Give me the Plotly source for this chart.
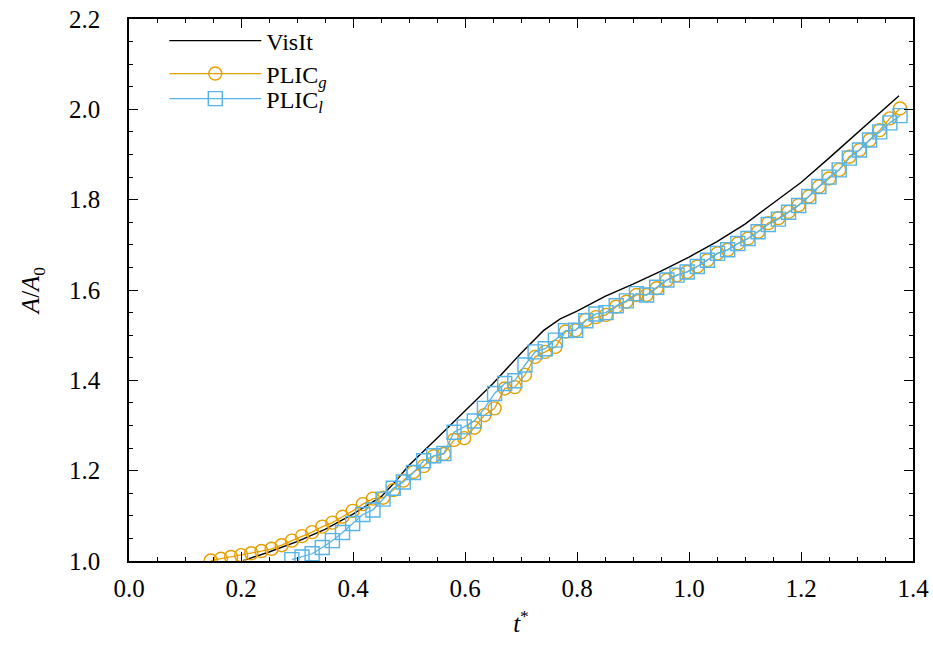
import plotly.graph_objects as go

# ---------------- data ----------------
t_plic = [0.1460, 0.1641, 0.1822, 0.2003, 0.2184, 0.2365, 0.2546, 0.2727, 0.2908, 0.3089,
          0.3270, 0.3451, 0.3632, 0.3813, 0.3994, 0.4175, 0.4356, 0.4537, 0.4718, 0.4899,
          0.5080, 0.5261, 0.5442, 0.5623, 0.5804, 0.5985, 0.6166, 0.6347, 0.6528, 0.6709,
          0.6890, 0.7071, 0.7252, 0.7433, 0.7614, 0.7795, 0.7976, 0.8157, 0.8338, 0.8519,
          0.8700, 0.8881, 0.9062, 0.9243, 0.9424, 0.9605, 0.9786, 0.9967, 1.0148, 1.0329,
          1.0510, 1.0691, 1.0872, 1.1053, 1.1234, 1.1415, 1.1596, 1.1777, 1.1958, 1.2139,
          1.2320, 1.2501, 1.2682, 1.2863, 1.3044, 1.3225, 1.3406, 1.3587, 1.3768]

plic_g = [1.001, 1.005, 1.009, 1.013, 1.017, 1.022, 1.027, 1.035, 1.045, 1.055,
          1.064, 1.076, 1.085, 1.098, 1.111, 1.126, 1.138, 1.140, 1.157, 1.178,
          1.197, 1.210, 1.232, 1.237, 1.268, 1.272, 1.295, 1.323, 1.338, 1.382,
          1.385, 1.412, 1.452, 1.463, 1.474, 1.508, 1.511, 1.534, 1.540, 1.545,
          1.563, 1.574, 1.589, 1.589, 1.604, 1.622, 1.633, 1.640, 1.652, 1.666,
          1.681, 1.689, 1.703, 1.714, 1.729, 1.748, 1.759, 1.773, 1.788, 1.807,
          1.829, 1.847, 1.866, 1.895, 1.910, 1.932, 1.954, 1.980, 2.002]

t_plic_l = t_plic[8:]
plic_l = [1.003, 1.009, 1.016, 1.030, 1.045, 1.063, 1.083, 1.103, 1.113, 1.137,
          1.161, 1.175, 1.196, 1.222, 1.233, 1.238, 1.285, 1.297, 1.310, 1.338,
          1.371, 1.393, 1.399, 1.434, 1.463, 1.470, 1.489, 1.510, 1.511, 1.532,
          1.547, 1.550, 1.565, 1.576, 1.592, 1.589, 1.606, 1.622, 1.633, 1.640,
          1.652, 1.666, 1.681, 1.689, 1.703, 1.714, 1.729, 1.745, 1.757, 1.772,
          1.787, 1.807, 1.829, 1.850, 1.866, 1.892, 1.910, 1.932, 1.950, 1.970,
          1.986]

t_visit = [0.204, 0.25, 0.30, 0.35, 0.40, 0.45, 0.475, 0.50, 0.55, 0.60, 0.65, 0.70,
           0.74, 0.77, 0.80, 0.85, 0.90, 0.95, 1.00, 1.05, 1.10, 1.15, 1.20, 1.25,
           1.30, 1.35, 1.375]
visit = [1.001, 1.020, 1.043, 1.070, 1.104, 1.142, 1.175, 1.212, 1.272, 1.332, 1.393, 1.460,
         1.510, 1.536, 1.553, 1.586, 1.613, 1.642, 1.673, 1.707, 1.746, 1.792, 1.838, 1.892,
         1.948, 2.003, 2.030]

x_ticks = [0.0, 0.2, 0.4, 0.6, 0.8, 1.0, 1.2, 1.4]
y_ticks = [1.0, 1.2, 1.4, 1.6, 1.8, 2.0, 2.2]

# ---------------- styling ----------------
FONT = "Liberation Serif"
ORANGE = "#E69F00"
BLUE = "#56B4E9"

fig = go.Figure()
fig.add_trace(go.Scatter(x=t_visit, y=visit, mode="lines", name="VisIt", legend="legend",
                         line=dict(color="black", width=1.4)))
fig.add_trace(go.Scatter(x=t_plic, y=plic_g, mode="lines+markers", name="PLIC<sub><i>g</i></sub>",
                         legend="legend2",
                         line=dict(color=ORANGE, width=1.3),
                         marker=dict(symbol="circle-open", size=13, color=ORANGE,
                                     line=dict(width=1.4, color=ORANGE))))
fig.add_trace(go.Scatter(x=t_plic_l, y=plic_l, mode="lines+markers", name="PLIC<sub><i>l</i></sub>",
                         legend="legend3",
                         line=dict(color=BLUE, width=1.3),
                         marker=dict(symbol="square-open", size=14, color=BLUE,
                                     line=dict(width=1.4, color=BLUE))))

axis_common = dict(
    showline=True, linecolor="black", linewidth=1.5, mirror="ticks",
    ticks="inside", ticklen=9, tickwidth=1.3, tickcolor="black",
    showgrid=False, zeroline=False, tickformat=".1f", automargin=False,
    tickfont=dict(family=FONT, size=25, color="black"),
)

legend_common = dict(x=0.045, xanchor="left", yanchor="middle",
                     bgcolor="rgba(0,0,0,0)", itemwidth=92,
                     font=dict(family=FONT, size=24, color="black"))

fig.update_layout(
    width=933, height=647,
    margin=dict(l=129, r=20, t=19, b=86),
    paper_bgcolor="white", plot_bgcolor="white",
    font=dict(family=FONT, size=24, color="black"),
    showlegend=True,
    legend=dict(y=0.9594, **legend_common),
    legend2=dict(y=0.8986, **legend_common),
    legend3=dict(y=0.8524, **legend_common),
    xaxis=dict(range=[0, 1.4], tickvals=x_ticks, ticklabelstandoff=4,
               minor=dict(dtick=0.05, ticks="inside", ticklen=4.5, tickwidth=1.1, tickcolor="black", showgrid=False),
               title=dict(text="<i>t</i><sup>*</sup>", font=dict(family=FONT, size=25), standoff=14),
               **axis_common),
    yaxis=dict(range=[1.0, 2.2], tickvals=y_ticks, ticklabelstandoff=22,
               minor=dict(dtick=0.05, ticks="inside", ticklen=4.5, tickwidth=1.1, tickcolor="black", showgrid=False),
               title=dict(text="<i>A</i>/<i>A</i><sub>0</sub>", font=dict(family=FONT, size=25), standoff=22),
               **axis_common),
)

fig.write_html("out.html")
